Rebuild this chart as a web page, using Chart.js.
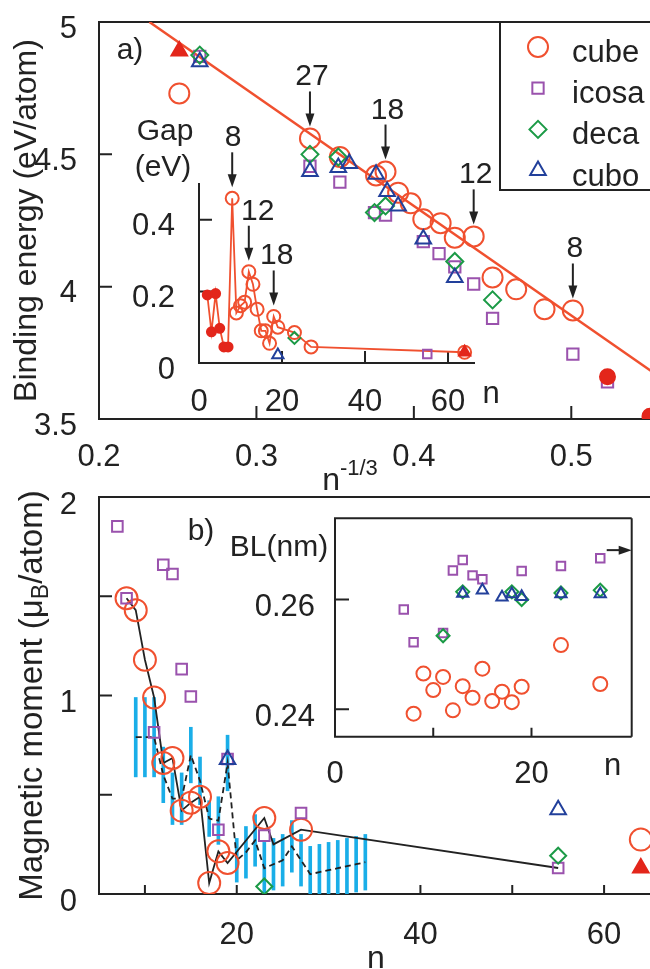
<!DOCTYPE html>
<html>
<head>
<meta charset="utf-8">
<title>Binding energy and magnetic moment of clusters</title>
<script src="https://cdn.jsdelivr.net/npm/chart.js@4.4.1/dist/chart.umd.min.js"></script>
<style>
  html, body { margin: 0; background: #fff; }
  #fig { position: relative; width: 650px; height: 969px; overflow: hidden; background: #fff; }
  #fig canvas { position: absolute; }
</style>
</head>
<body>
<div id="fig">
  <canvas id="panelA" width="650" height="500" style="left:0;top:0"></canvas>
  <canvas id="panelB" width="650" height="509" style="left:0;top:460px"></canvas>
  <canvas id="insetA" width="420" height="320" style="left:100px;top:100px"></canvas>
  <canvas id="insetB" width="420" height="290" style="left:230px;top:500px"></canvas>
</div>
<script>
// ---------- a) binding energy vs n^-1/3 ----------
const aTicksX = [0.2, 0.3, 0.4, 0.5];
const aTicksY = [3.5, 4, 4.5, 5];
const aCubeX = [0.251, 0.334, 0.353, 0.376, 0.382, 0.390, 0.398, 0.406, 0.417, 0.426, 0.438, 0.450, 0.465, 0.483, 0.501];
const aCubeE = [4.73, 4.56, 4.49, 4.42, 4.435, 4.355, 4.315, 4.255, 4.24, 4.185, 4.19, 4.035, 3.99, 3.915, 3.91];
const aSmallX = [0.523, 0.550];
const aSmallE = [3.66, 3.51];
const aTriX = [0.251];
const aTriE = [4.89];
const aIcosaX = [0.264, 0.334, 0.353, 0.375, 0.382, 0.406, 0.416, 0.426, 0.438, 0.450, 0.501, 0.523];
const aIcosaE = [4.87, 4.455, 4.395, 4.28, 4.27, 4.17, 4.125, 4.075, 4.01, 3.88, 3.745, 3.64];
const aDecaX = [0.264, 0.334, 0.352, 0.375, 0.382, 0.426, 0.450];
const aDecaE = [4.875, 4.50, 4.49, 4.28, 4.305, 4.095, 3.95];
const aCuboX = [0.264, 0.334, 0.352, 0.359, 0.376, 0.383, 0.390, 0.406, 0.426];
const aCuboE = [4.85, 4.435, 4.45, 4.465, 4.425, 4.36, 4.305, 4.18, 4.035];
const aFitX = [0.232, 0.551];
const aFitE = [5.0, 3.68];
const magicA = ['27', '18', '12', '8'];
const magicAX = [0.334, 0.382, 0.438, 0.501];
const legendNames = ['cube', 'icosa', 'deca', 'cubo'];

// inset of a): HOMO-LUMO gap vs n
const gapTicksX = [0, 20, 40, 60];
const gapTicksY = [0, 0.2, 0.4];
const gapSmallN = [2, 3, 4, 5, 6, 7];
const gapSmall = [0.19, 0.087, 0.194, 0.097, 0.045, 0.045];
const gapCubeN = [8, 9, 10, 11, 12, 13, 14, 15, 16, 17, 18, 19, 23, 27, 64];
const gapCube = [0.46, 0.14, 0.16, 0.17, 0.255, 0.22, 0.15, 0.09, 0.09, 0.055, 0.13, 0.10, 0.085, 0.045, 0.03];
const gapIcosaN = [55];
const gapIcosa = [0.025];
const gapDecaN = [23];
const gapDeca = [0.07];
const gapCuboN = [19];
const gapCubo = [0.022];
const gapTriN = [64];
const gapTri = [0.03];
const magicGap = ['8', '12', '18'];
const magicGapN = [8, 12, 18];

// ---------- b) magnetic moment vs n ----------
const bTicksX = [20, 40, 60];
const bTicksY = [0, 1, 2];
const bCubeN = [8, 9, 10, 11, 12, 13, 14, 15, 16, 17, 18, 19, 23, 27, 64];
const bCubeM = [1.49, 1.43, 1.18, 0.99, 0.66, 0.685, 0.42, 0.46, 0.49, 0.055, 0.215, 0.156, 0.383, 0.324, 0.274];
const bIcosaN = [7, 8, 11, 12, 13, 14, 15, 18, 19, 23, 27, 55];
const bIcosaM = [1.852, 1.49, 0.814, 1.659, 1.612, 1.133, 0.995, 0.324, 0.68, 0.294, 0.408, 0.131];
const bDecaN = [23, 55];
const bDecaM = [0.038, 0.193];
const bCuboN = [19, 55];
const bCuboM = [0.677, 0.425];
const bTriN = [64];
const bTriM = [0.131];
const bLowN = [8, 9, 10, 11, 12, 13, 14, 15, 16, 17, 18, 19, 23, 24, 27, 55];
const bLowM = [1.49, 1.43, 1.18, 0.99, 0.66, 0.685, 0.42, 0.46, 0.49, 0.055, 0.215, 0.156, 0.383, 0.25, 0.324, 0.131];
const bExpN = [9, 10, 11, 12, 13, 14, 15, 16, 17, 18, 19, 20, 21, 22, 23, 24, 25, 26, 27, 28, 29, 30, 31, 32, 33, 34];
const bExpM = [0.79, 0.79, 0.79, 0.60, 0.48, 0.48, 0.70, 0.57, 0.38, 0.37, 0.66, 0.17, 0.21, 0.27, 0.13, 0.15, 0.17, 0.24, 0.17, 0.10, 0.11, 0.12, 0.13, 0.14, 0.15, 0.16];
const bExpErr = [0.2, 0.2, 0.2, 0.14, 0.13, 0.13, 0.14, 0.12, 0.09, 0.12, 0.14, 0.11, 0.13, 0.13, 0.13, 0.13, 0.13, 0.13, 0.13, 0.14, 0.14, 0.14, 0.14, 0.14, 0.14, 0.14];

// inset of b): bond length vs n
const blTicksX = [0, 20];
const blTicksY = [0.24, 0.26];
const blCubeN = [8, 9, 10, 11, 12, 13, 14, 15, 16, 17, 18, 19, 23, 27];
const blCube = [0.2392, 0.2465, 0.2435, 0.2459, 0.2398, 0.2442, 0.2421, 0.2474, 0.2415, 0.2432, 0.2413, 0.2441, 0.2517, 0.2446];
const blIcosaN = [7, 8, 11, 12, 13, 14, 15, 19, 23, 27];
const blIcosa = [0.2582, 0.2522, 0.2539, 0.2653, 0.2672, 0.2644, 0.2637, 0.2652, 0.2661, 0.2675];
const blDecaN = [11, 13, 18, 19, 23, 27];
const blDeca = [0.2534, 0.2614, 0.2614, 0.2600, 0.2612, 0.2617];
const blCuboN = [13, 15, 17, 18, 19, 23, 27];
const blCubo = [0.2611, 0.2617, 0.2604, 0.2610, 0.2605, 0.2610, 0.2610];
const blBulk = 0.269;

const FONT = "'Liberation Sans', Arial, Helvetica, sans-serif";
const INK = '#222';
const CUBE = '#f0502f';
const ICOSA = '#9a52ad';
const DECA = '#1b9a46';
const CUBO = '#22409b';
const RED = '#e3261b';
const CYAN = '#1aaee8';

Chart.defaults.font.family = FONT;
Chart.defaults.color = INK;

function say(ctx, text, x, y, size, align) {
  ctx.save();
  ctx.font = size + 'px ' + FONT;
  ctx.fillStyle = INK;
  ctx.textAlign = align || 'center';
  ctx.textBaseline = 'alphabetic';
  ctx.fillText(text, x, y);
  ctx.restore();
}

// pieces: [text, size, raise]; x,y = centre / baseline
function sayRich(ctx, pieces, x, y, vertical) {
  ctx.save();
  ctx.translate(x, y);
  if (vertical) ctx.rotate(-Math.PI / 2);
  ctx.fillStyle = INK;
  ctx.textAlign = 'left';
  ctx.textBaseline = 'alphabetic';
  let total = 0;
  const widths = pieces.map(p => {
    ctx.font = p[1] + 'px ' + FONT;
    const w = ctx.measureText(p[0]).width;
    total += w;
    return w;
  });
  let cx = -total / 2;
  pieces.forEach((p, i) => {
    ctx.font = p[1] + 'px ' + FONT;
    ctx.fillText(p[0], cx, -(p[2] || 0));
    cx += widths[i];
  });
  ctx.restore();
}

function arrowDown(ctx, x, top, tip) {
  ctx.save();
  ctx.strokeStyle = INK;
  ctx.fillStyle = INK;
  ctx.lineWidth = 2;
  ctx.beginPath();
  ctx.moveTo(x, top);
  ctx.lineTo(x, tip - 10);
  ctx.stroke();
  ctx.beginPath();
  ctx.moveTo(x - 4.5, tip - 13);
  ctx.lineTo(x + 4.5, tip - 13);
  ctx.lineTo(x, tip);
  ctx.closePath();
  ctx.fill();
  ctx.restore();
}

function arrowRight(ctx, from, tip, y) {
  ctx.save();
  ctx.strokeStyle = INK;
  ctx.fillStyle = INK;
  ctx.lineWidth = 2;
  ctx.beginPath();
  ctx.moveTo(from, y);
  ctx.lineTo(tip - 10, y);
  ctx.stroke();
  ctx.beginPath();
  ctx.moveTo(tip - 13, y - 4.5);
  ctx.lineTo(tip - 13, y + 4.5);
  ctx.lineTo(tip, y);
  ctx.closePath();
  ctx.fill();
  ctx.restore();
}

function legendMark(ctx, style, r, color, x, y) {
  ctx.save();
  ctx.strokeStyle = color;
  ctx.fillStyle = 'rgba(0,0,0,0)';
  ctx.lineWidth = 2;
  if (Chart.helpers && Chart.helpers.drawPoint) {
    Chart.helpers.drawPoint(ctx, { pointStyle: style, radius: r, rotation: 0, borderWidth: 2 }, x, y);
  } else {
    ctx.beginPath();
    ctx.arc(x, y, r, 0, Math.PI * 2);
    ctx.stroke();
  }
  ctx.restore();
}

// axis lines and inward tick marks
function frame(sides, xMarks, yMarks, xLen, yLen) {
  return {
    id: 'frame',
    beforeDatasetsDraw(chart) {
      const { ctx, chartArea: a, scales } = chart;
      ctx.save();
      ctx.strokeStyle = INK;
      ctx.lineWidth = 2;
      ctx.beginPath();
      if (sides.includes('t')) { ctx.moveTo(a.left, a.top); ctx.lineTo(a.right, a.top); }
      if (sides.includes('r')) { ctx.moveTo(a.right, a.top); ctx.lineTo(a.right, a.bottom); }
      if (sides.includes('b')) { ctx.moveTo(a.left - 1, a.bottom); ctx.lineTo(a.right, a.bottom); }
      if (sides.includes('l')) { ctx.moveTo(a.left, a.top - 1); ctx.lineTo(a.left, a.bottom + 1); }
      xMarks.forEach(v => {
        const p = scales.x.getPixelForValue(v);
        ctx.moveTo(p, a.bottom);
        ctx.lineTo(p, a.bottom - xLen);
      });
      yMarks.forEach(v => {
        const p = scales.y.getPixelForValue(v);
        ctx.moveTo(a.left, p);
        ctx.lineTo(a.left + yLen, p);
      });
      ctx.stroke();
      ctx.restore();
    }
  };
}

function axis(min, max, ticks, box, pad, shift, size) {
  return {
    type: 'linear',
    min: min,
    max: max,
    offset: false,
    grid: { display: false },
    border: { display: false },
    ticks: {
      padding: pad,
      labelOffset: shift,
      autoSkip: false,
      maxRotation: 0,
      color: INK,
      font: { size: size || 31, lineHeight: 1 },
      callback: (v, i) => String(ticks[i])
    },
    afterBuildTicks: s => { s.ticks = ticks.map(value => ({ value })); },
    afterFit: s => {
      if (s.isHorizontal()) s.height = box; else s.width = box;
      s.paddingTop = s.paddingBottom = s.paddingLeft = s.paddingRight = 0;
    }
  };
}

function marks(xs, ys, style, r, color, filled) {
  return {
    data: xs.map((x, i) => ({ x: x, y: ys[i] })),
    showLine: false,
    pointStyle: style,
    pointRadius: r,
    pointBorderWidth: 2,
    pointBorderColor: color,
    pointBackgroundColor: filled ? color : 'rgba(0,0,0,0)'
  };
}

function trace(xs, ys, color, width, dash) {
  return {
    data: xs.map((x, i) => ({ x: x, y: ys[i] })),
    showLine: true,
    borderColor: color,
    borderWidth: width,
    borderDash: dash || [],
    pointRadius: 0,
    fill: false
  };
}

function errorBars(xs, ys, half, color) {
  return {
    type: 'bar',
    data: xs.map((x, i) => ({ x: x, y: [ys[i] - half[i], ys[i] + half[i]] })),
    backgroundColor: color,
    barThickness: 3,
    borderWidth: 0,
    clip: 0
  };
}

function makeChart(id, datasets, xAxis, yAxis, padding, plugins) {
  return new Chart(document.getElementById(id), {
    type: 'scatter',
    data: { datasets: datasets },
    options: {
      responsive: false,
      maintainAspectRatio: false,
      animation: false,
      events: [],
      layout: { padding: padding, autoPadding: false },
      plugins: { legend: { display: false }, tooltip: { enabled: false } },
      scales: { x: xAxis, y: yAxis }
    },
    plugins: plugins
  });
}

// ---------- panel a ----------
makeChart('panelA', [
  marks(aCuboX, aCuboE, 'triangle', 9, CUBO),
  marks(aDecaX, aDecaE, 'rectRot', 8.5, DECA),
  marks(aTriX, aTriE, 'triangle', 9, RED, true),
  marks(aCubeX, aCubeE, 'circle', 10, CUBE),
  marks(aSmallX, aSmallE, 'circle', 7.5, RED, true),
  marks(aIcosaX, aIcosaE, 'rect', 8, ICOSA),
  trace(aFitX, aFitE, CUBE, 2.5)
],
  axis(0.2, 0.55, aTicksX, 81, 15, 0),
  axis(3.5, 5, aTicksY, 99, 14, 7),
  { top: 22, right: 0, bottom: 0, left: 0 },
  [frame('ltb', [0.3, 0.4, 0.5], [4, 4.5], 13, 13), {
    id: 'panelANotes',
    afterDraw(chart) {
      const { ctx, chartArea: a, scales: { x, y } } = chart;
      sayRich(ctx, [['Binding energy (eV/atom)', 32]], 36, (a.top + a.bottom) / 2, true);
      sayRich(ctx, [['n', 32], ['-1/3', 22, 15]], a.left + 251, a.bottom + 71);
      say(ctx, 'a)', a.left + 31, a.top + 37, 30);
      magicA.forEach((t, i) => {
        const k = aCubeX.indexOf(magicAX[i]);
        const px = x.getPixelForValue(magicAX[i]);
        const tip = y.getPixelForValue(aCubeE[k]) - 12;
        arrowDown(ctx, px, tip - 35, tip);
        say(ctx, t, px + 2, tip - 41, 30);
      });
      // legend box
      const styles = [['circle', 10, CUBE], ['rect', 8, ICOSA], ['rectRot', 8.5, DECA], ['triangle', 9, CUBO]];
      ctx.save();
      ctx.strokeStyle = INK;
      ctx.lineWidth = 2;
      ctx.beginPath();
      ctx.moveTo(a.right - 150, a.top);
      ctx.lineTo(a.right - 150, a.top + 168);
      ctx.lineTo(a.right + 2, a.top + 168);
      ctx.stroke();
      ctx.restore();
      legendNames.forEach((name, i) => {
        const my = a.top + 25 + 41.2 * i;
        legendMark(ctx, styles[i][0], styles[i][1], styles[i][2], a.right - 112, my);
        say(ctx, name, a.right - 78, my + 15, 31, 'left');
      });
    }
  }]);

// ---------- inset of a ----------
makeChart('insetA', [
  marks(gapTriN, gapTri, 'triangle', 6.5, RED, true),
  marks(gapCubeN, gapCube, 'circle', 6.5, CUBE),
  marks(gapSmallN, gapSmall, 'circle', 4.5, RED, true),
  marks(gapDecaN, gapDeca, 'rectRot', 6, DECA),
  marks(gapCuboN, gapCubo, 'triangle', 6.5, CUBO),
  marks(gapIcosaN, gapIcosa, 'rect', 6, ICOSA),
  trace(gapSmallN.concat(gapCubeN), gapSmall.concat(gapCube), CUBE, 1.8)
],
  axis(0, 66.5, gapTicksX, 57, 16, 0),
  axis(0, 0.5, gapTicksY, 99, 16, 7),
  { top: 84, right: 45, bottom: 0, left: 0 },
  [frame('lb', [20, 40, 60], [0.2, 0.4], 12, 13), {
    id: 'insetANotes',
    afterDraw(chart) {
      const { ctx, chartArea: a, scales: { x, y } } = chart;
      say(ctx, 'Gap', 65, a.top - 44, 30);
      say(ctx, '(eV)', 63, a.top - 8, 30);
      say(ctx, 'n', a.right + 16, a.bottom + 40, 31);
      const shift = [1, 9, 3];
      magicGap.forEach((t, i) => {
        const k = gapCubeN.indexOf(magicGapN[i]);
        const px = x.getPixelForValue(magicGapN[i]);
        const tip = y.getPixelForValue(gapCube[k]) - 11;
        arrowDown(ctx, px, tip - 35, tip);
        say(ctx, t, px + shift[i], tip - 41, 30);
      });
    }
  }]);

// ---------- panel b ----------
makeChart('panelB', [
  marks(bCuboN, bCuboM, 'triangle', 9, CUBO),
  marks(bDecaN, bDecaM, 'rectRot', 8, DECA),
  marks(bIcosaN, bIcosaM, 'rect', 7.5, ICOSA),
  marks(bTriN, bTriM, 'triangle', 9, RED, true),
  marks(bCubeN, bCubeM, 'circle', 11, CUBE),
  trace(bLowN, bLowM, INK, 1.8),
  trace(bExpN, bExpM, INK, 1.8, [6, 4]),
  errorBars(bExpN, bExpM, bExpErr, CYAN)
],
  axis(5, 65, bTicksX, 75, 18, 0),
  axis(0, 2, bTicksY, 99, 14, 8),
  { top: 37, right: 0, bottom: 0, left: 0 },
  [frame('ltb', [10, 20, 30, 40, 50, 60], [0.5, 1, 1.5], 9, 13), {
    id: 'panelBNotes',
    afterDraw(chart) {
      const { ctx, chartArea: a } = chart;
      sayRich(ctx, [['Magnetic moment (\u03bc', 33], ['B', 23, -6], ['/atom)', 33]], 42, (a.top + a.bottom) / 2, true);
      say(ctx, 'n', 376, a.bottom + 74, 32);
      say(ctx, 'b)', 201, a.top + 43, 30);
      say(ctx, 'BL(nm)', 279, a.top + 59, 30);
    }
  }]);

// ---------- inset of b ----------
makeChart('insetB', [
  marks(blCuboN, blCubo, 'triangle', 6.5, CUBO),
  marks(blDecaN, blDeca, 'rectRot', 6.5, DECA),
  marks(blIcosaN, blIcosa, 'rect', 6, ICOSA),
  marks(blCubeN, blCube, 'circle', 7, CUBE)
],
  axis(0, 30.2, blTicksX, 53.3, 14, 0),
  axis(0.235, 0.2748, blTicksY, 105, 12, 8),
  { top: 18.3, right: 18.3, bottom: 0, left: 0 },
  [frame('ltrb', [10, 20], [0.24, 0.26], 9, 14), {
    id: 'insetBNotes',
    afterDraw(chart) {
      const { ctx, chartArea: a, scales: { y } } = chart;
      say(ctx, 'n', a.right - 19, a.bottom + 38, 31);
      arrowRight(ctx, a.right - 25, a.right, y.getPixelForValue(blBulk));
    }
  }]);
</script>
</body>
</html>
